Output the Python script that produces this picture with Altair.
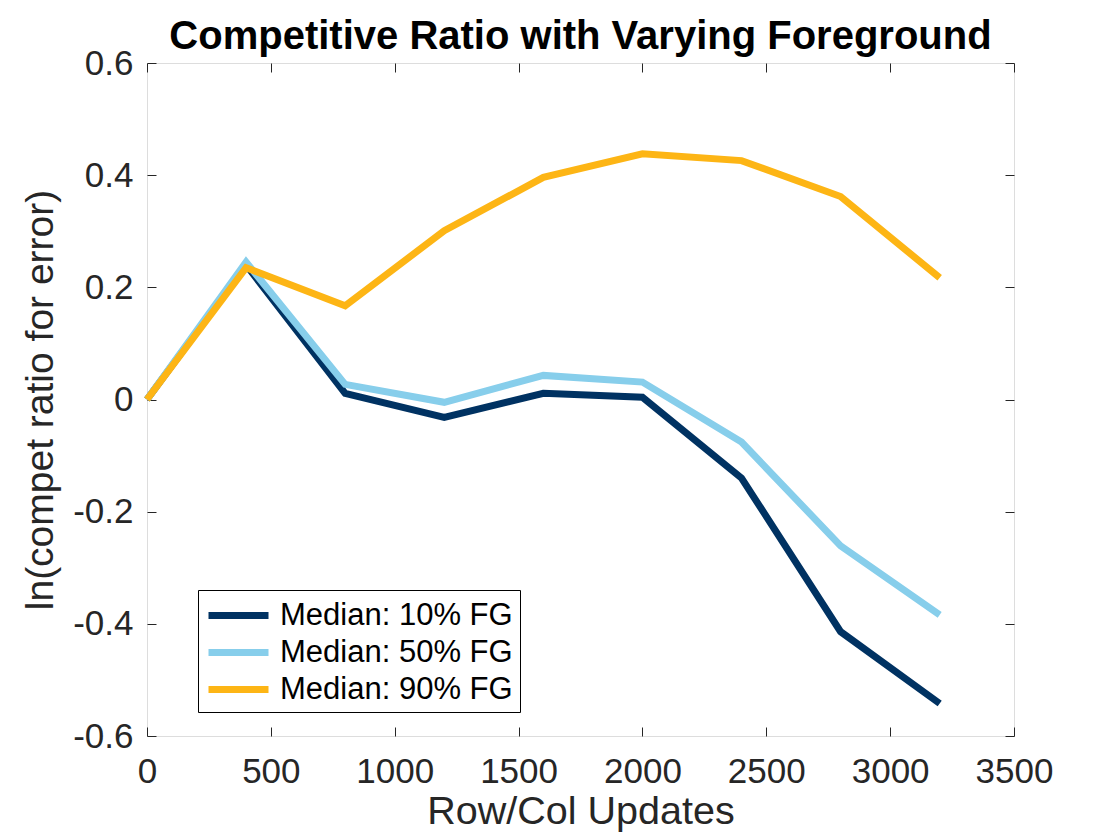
import altair as alt
import pandas as pd

updates = [0, 400, 800, 1200, 1600, 2000, 2400, 2800, 3200]
series_names = ["Median: 10% FG", "Median: 50% FG", "Median: 90% FG"]
fg10 = [0.0, 0.240, 0.011, -0.032, 0.011, 0.004, -0.140, -0.414, -0.542]
fg50 = [0.0, 0.245, 0.027, -0.005, 0.043, 0.031, -0.076, -0.261, -0.384]
fg90 = [0.0, 0.235, 0.167, 0.301, 0.396, 0.438, 0.426, 0.362, 0.217]
colors = ["#003262", "#87CEEB", "#FDB515"]
x_ticks = [0, 500, 1000, 1500, 2000, 2500, 3000, 3500]
y_ticks = [-0.6, -0.4, -0.2, 0, 0.2, 0.4, 0.6]

rows = []
for name, vals in zip(series_names, [fg10, fg50, fg90]):
    for i, (u, v) in enumerate(zip(updates, vals)):
        rows.append({"updates": u, "value": v, "series": name, "idx": i})
df = pd.DataFrame(rows)

FONT = "Liberation Sans"
xscale = alt.Scale(domain=[0, 3500], nice=False, zero=False)
yscale = alt.Scale(domain=[-0.6, 0.6], nice=False, zero=False)

ylabel_expr = ("datum.value == 0 ? '0' : (datum.value < 0 ? '-' + format(-datum.value, '.1f') "
               ": format(datum.value, '.1f'))")

lines = alt.Chart(df).mark_line(strokeWidth=7, strokeJoin="miter", strokeCap="butt").encode(
    x=alt.X("updates:Q", scale=xscale,
            axis=alt.Axis(orient="bottom", values=x_ticks, title="Row/Col Updates",
                          format="d", ticks=False, tickSize=0, domain=False, grid=False,
                          labelFontSize=35, labelFont=FONT, labelColor="#262626",
                          labelPadding=18, titleFont=FONT, titleFontSize=39.5,
                          titleFontWeight="normal", titleColor="#262626", titlePadding=3,
                          labelFlush=False, labelOverlap=False)),
    y=alt.Y("value:Q", scale=yscale,
            axis=alt.Axis(orient="left", values=y_ticks, title="ln(compet ratio for error)",
                          ticks=False, tickSize=0, domain=False, grid=False,
                          labelExpr=ylabel_expr, labelFontSize=35, labelFont=FONT,
                          labelColor="#262626", labelPadding=14, titleFont=FONT,
                          titleFontSize=39, titleFontWeight="normal", titleColor="#262626",
                          titlePadding=12, labelFlush=False, labelOverlap=False)),
    color=alt.Color("series:N", scale=alt.Scale(domain=series_names, range=colors),
                    legend=alt.Legend(title=None, orient="none", legendX=51, legendY=527,
                                      symbolType="M-1,0H3", symbolSize=900,
                                      symbolStrokeWidth=7, labelFont=FONT, labelFontSize=31,
                                      labelColor="#000000", labelOffset=38, rowPadding=3,
                                      padding=7, strokeColor="#000000", fillColor="#ffffff",
                                      cornerRadius=0, labelLimit=400)),
    order="idx:Q",
)

def tick_layer(xorient, yorient):
    return alt.Chart(df).mark_point(opacity=0).encode(
        x=alt.X("updates:Q", scale=xscale,
                axis=alt.Axis(orient=xorient, values=x_ticks, labels=False, title=None,
                              domain=False, grid=False, ticks=True, tickSize=9,
                              tickColor="#262626", tickWidth=1, offset=-9)),
        y=alt.Y("value:Q", scale=yscale,
                axis=alt.Axis(orient=yorient, values=y_ticks, labels=False, title=None,
                              domain=False, grid=False, ticks=True, tickSize=9,
                              tickColor="#262626", tickWidth=1, offset=-9)),
    )

chart = alt.layer(tick_layer("bottom", "left"), tick_layer("top", "right"), lines).resolve_axis(
    x="independent", y="independent"
).properties(
    width=867, height=673,
    title=alt.TitleParams("Competitive Ratio with Varying Foreground", font=FONT,
                          fontSize=40, fontWeight="bold", color="#000000", offset=-11,
                          anchor="middle"),
    autosize=alt.AutoSizeParams(type="none"),
    padding={"left": 139, "top": 55, "right": 40, "bottom": 96},
).configure_view(stroke="#262626", strokeWidth=1).configure(background="#ffffff")

chart.save("out.html", embed_options={"renderer": "svg", "actions": False})
